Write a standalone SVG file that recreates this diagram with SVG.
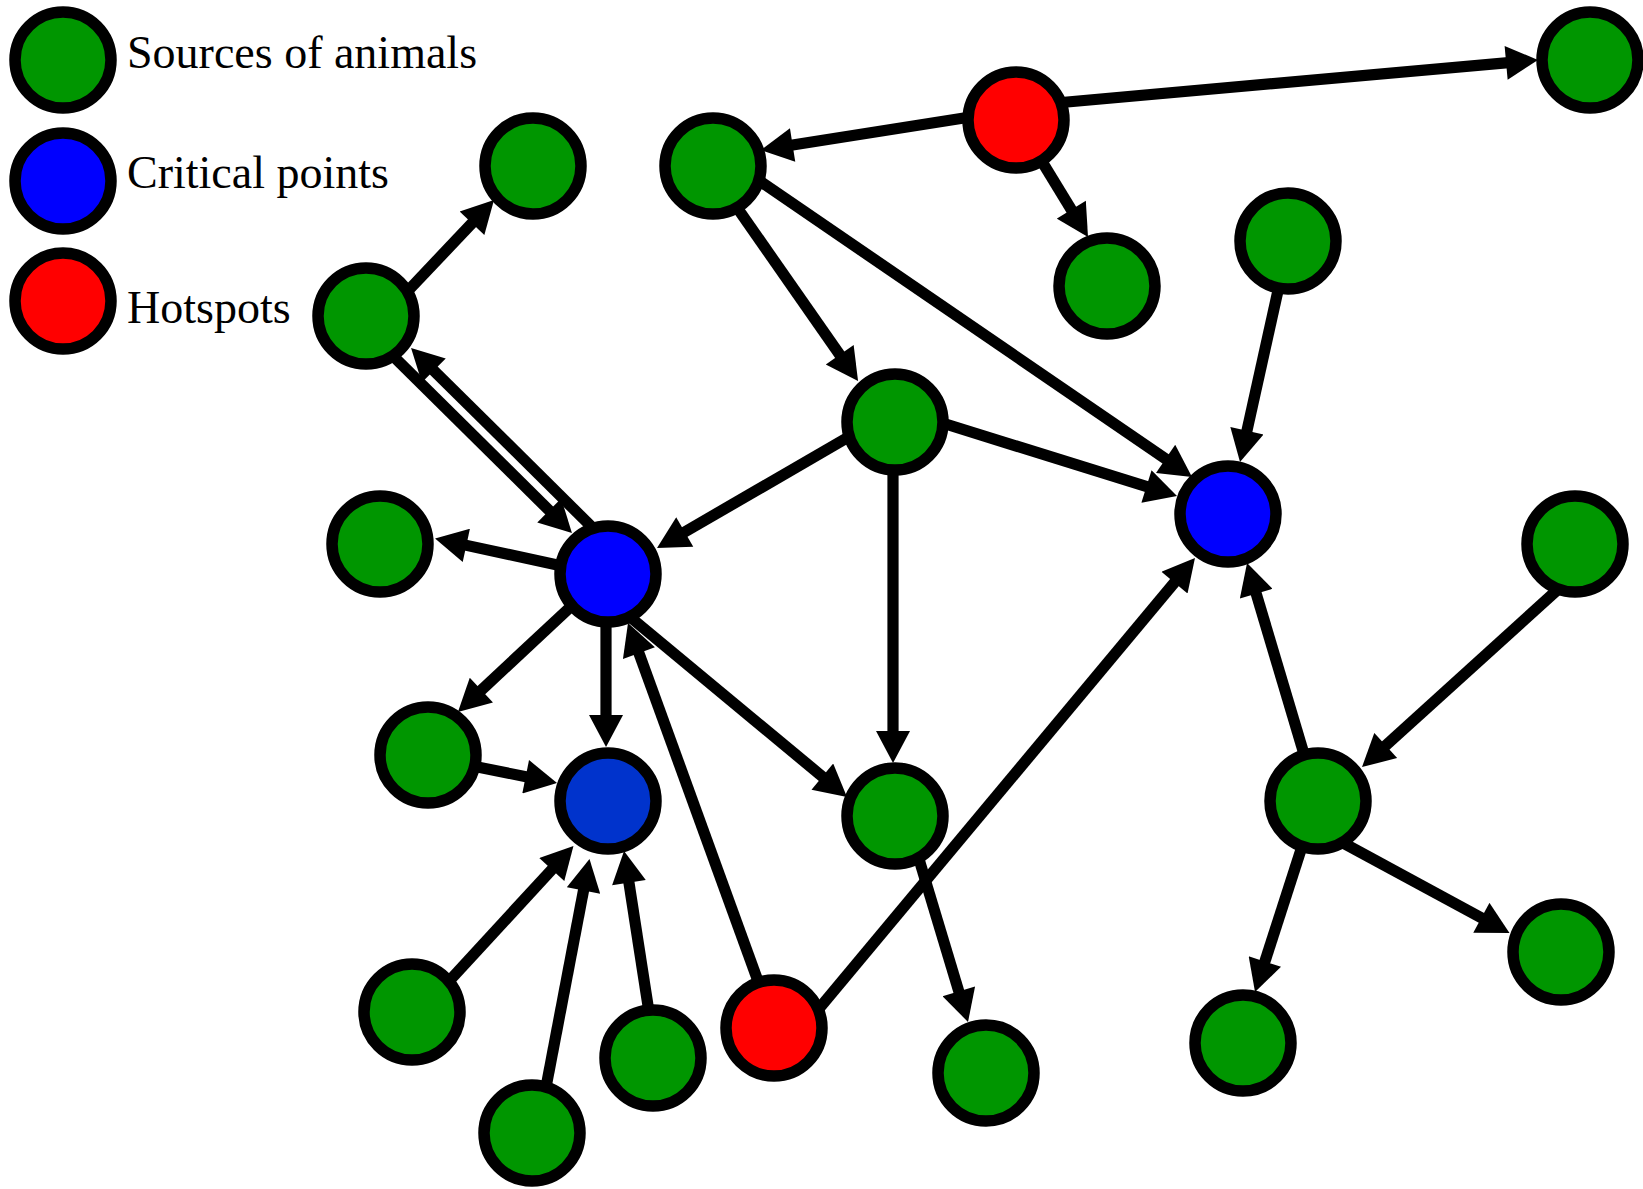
<svg xmlns="http://www.w3.org/2000/svg" width="1643" height="1189" viewBox="0 0 1643 1189">
  <defs>
    <style>
      .node { stroke: #000; stroke-width: 11.5; }
      .src { fill: #009600; }
      .crit { fill: #0000ff; }
      .crit2 { fill: #0033cc; }
      .hot { fill: #ff0000; }
      .edge { stroke: #000; stroke-width: 11.2; fill: none; marker-end: url(#arrow); }
      .label { font-family: "Liberation Serif", "Times New Roman", serif; font-size: 46px; fill: #000; }
    </style>
    <marker id="arrow" markerUnits="userSpaceOnUse" markerWidth="34" markerHeight="34" viewBox="0 0 32 34" refX="8" refY="17" orient="auto">
      <path d="M0,0 L32,17 L0,34 Z" fill="#000"/>
    </marker>
  </defs>
  <rect width="1643" height="1189" fill="#fff"/>

  <!-- connectors (drawn under the nodes) -->
  <g id="connectors">
    <line class="edge" x1="1045" y1="104" x2="1514.1" y2="62.1"/>
    <line class="edge" x1="983" y1="115" x2="784.7" y2="146.3"/>
    <line class="edge" x1="1030" y1="142" x2="1075.5" y2="216.5"/>
    <line class="edge" x1="386" y1="314" x2="477.5" y2="217.4"/>
    <line class="edge" x1="708" y1="166" x2="844.3" y2="361.3"/>
    <line class="edge" x1="735" y1="164" x2="1172.2" y2="463.4"/>
    <line class="edge" x1="1289" y1="241" x2="1245.2" y2="438.6"/>
    <line class="edge" x1="920" y1="416" x2="1154.1" y2="488.9"/>
    <line class="edge" x1="895" y1="410" x2="677.8" y2="536"/>
    <line class="edge" x1="893" y1="422" x2="893" y2="739"/>
    <line class="edge" x1="606" y1="541" x2="428.1" y2="364.9"/>
    <line class="edge" x1="386" y1="349" x2="554.9" y2="516.1"/>
    <line class="edge" x1="608" y1="576" x2="458.5" y2="543.6"/>
    <line class="edge" x1="608" y1="572" x2="475.5" y2="695.6"/>
    <line class="edge" x1="606" y1="574" x2="606" y2="723"/>
    <line class="edge" x1="775" y1="1028" x2="636.2" y2="645.6"/>
    <line class="edge" x1="618" y1="607" x2="828.5" y2="781.7"/>
    <line class="edge" x1="428" y1="757" x2="533.5" y2="778.3"/>
    <line class="edge" x1="440" y1="991" x2="557.2" y2="863.7"/>
    <line class="edge" x1="543" y1="1103" x2="585" y2="882.6"/>
    <line class="edge" x1="651" y1="1025" x2="627.7" y2="874.7"/>
    <line class="edge" x1="802" y1="1029" x2="1179.6" y2="576.4"/>
    <line class="edge" x1="906" y1="816" x2="961.1" y2="999"/>
    <line class="edge" x1="1318" y1="801" x2="1253.9" y2="586"/>
    <line class="edge" x1="1565" y1="583" x2="1379.8" y2="750.9"/>
    <line class="edge" x1="1307" y1="831" x2="1262.4" y2="969.2"/>
    <line class="edge" x1="1334" y1="838" x2="1488.4" y2="921.6"/>
  </g>

  <!-- legend -->
  <g id="legend-sources">
    <circle class="node src" cx="63" cy="60" r="48"/>
    <text class="label" x="127" y="68">Sources of animals</text>
  </g>
  <g id="legend-critical">
    <circle class="node crit" cx="63" cy="181" r="48"/>
    <text class="label" x="127" y="188">Critical points</text>
  </g>
  <g id="legend-hotspots">
    <circle class="node hot" cx="63" cy="301" r="48"/>
    <text class="label" x="127" y="323">Hotspots</text>
  </g>

  <!-- network nodes -->
  <g id="n-green-tr"><circle class="node src" cx="1590" cy="60" r="48"/></g>
  <g id="n-hot-top"><circle class="node hot" cx="1016" cy="120" r="48"/></g>
  <g id="n-green-a"><circle class="node src" cx="713" cy="166" r="48"/></g>
  <g id="n-green-b"><circle class="node src" cx="533" cy="166" r="48"/></g>
  <g id="n-green-c"><circle class="node src" cx="1107" cy="286" r="48"/></g>
  <g id="n-green-d"><circle class="node src" cx="1288" cy="241" r="48"/></g>
  <g id="n-green-e"><circle class="node src" cx="366" cy="316" r="48"/></g>
  <g id="n-green-f"><circle class="node src" cx="895" cy="422" r="48"/></g>
  <g id="n-crit-right"><circle class="node crit" cx="1228" cy="514" r="48"/></g>
  <g id="n-green-g"><circle class="node src" cx="1575" cy="544" r="48"/></g>
  <g id="n-green-h"><circle class="node src" cx="380" cy="544" r="48"/></g>
  <g id="n-crit-left"><circle class="node crit" cx="608" cy="574" r="48"/></g>
  <g id="n-green-i"><circle class="node src" cx="428" cy="755" r="48"/></g>
  <g id="n-crit-low"><circle class="node crit2" cx="608" cy="801" r="48"/></g>
  <g id="n-green-j"><circle class="node src" cx="895" cy="816" r="48"/></g>
  <g id="n-green-k"><circle class="node src" cx="1318" cy="801" r="48"/></g>
  <g id="n-green-l"><circle class="node src" cx="1561" cy="952" r="48"/></g>
  <g id="n-green-m"><circle class="node src" cx="412" cy="1012" r="48"/></g>
  <g id="n-hot-low"><circle class="node hot" cx="774" cy="1028" r="48"/></g>
  <g id="n-green-n"><circle class="node src" cx="653" cy="1058" r="48"/></g>
  <g id="n-green-o"><circle class="node src" cx="986" cy="1073" r="48"/></g>
  <g id="n-green-p"><circle class="node src" cx="1243" cy="1043" r="48"/></g>
  <g id="n-green-q"><circle class="node src" cx="532" cy="1133" r="48"/></g>
</svg>
